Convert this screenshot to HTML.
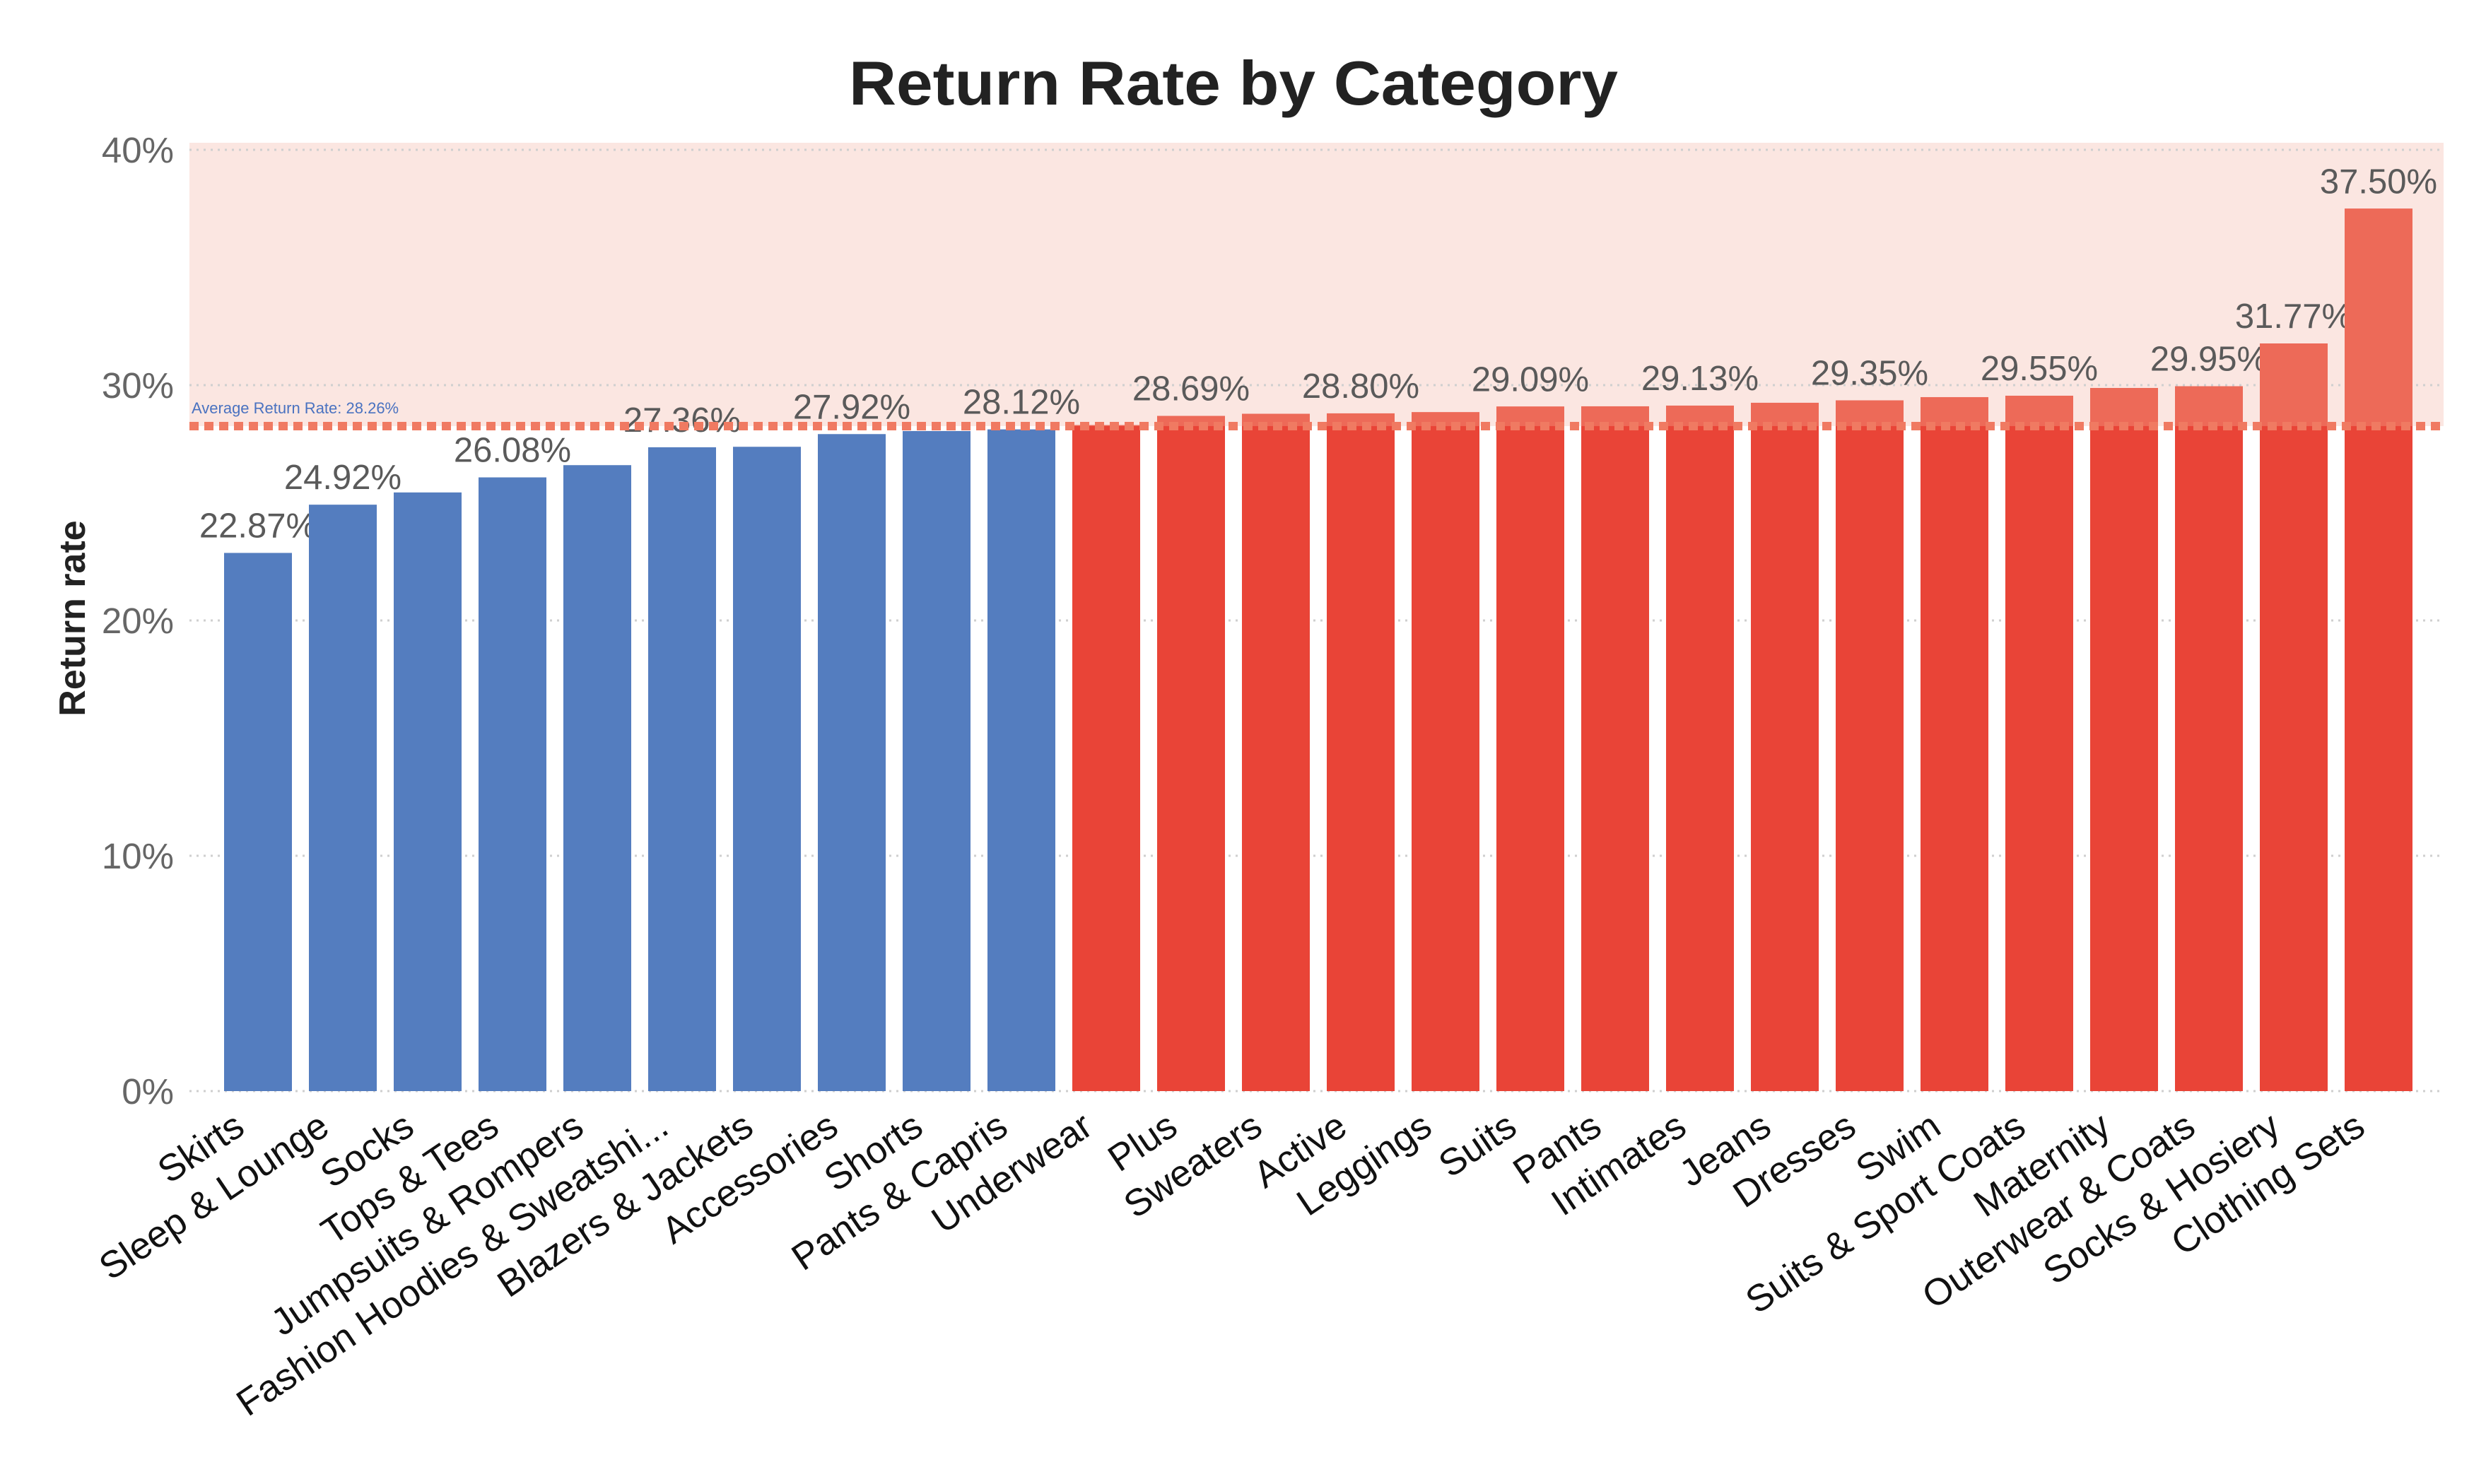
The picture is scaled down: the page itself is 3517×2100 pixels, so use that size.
<!DOCTYPE html>
<html><head><meta charset="utf-8"><style>
html,body{margin:0;padding:0;background:#fff;}
svg{display:block;font-family:"Liberation Sans",sans-serif;}
</style></head><body>
<svg id="chart" width="3517" height="2100" viewBox="0 0 3517 2100" xmlns="http://www.w3.org/2000/svg">
<text x="1745" y="148" text-anchor="middle" font-size="88" font-weight="bold" fill="#222" textLength="1088" lengthAdjust="spacingAndGlyphs">Return Rate by Category</text>
<text transform="translate(120,875) rotate(-90)" text-anchor="middle" font-size="52" font-weight="bold" fill="#222">Return rate</text>
<g id="plot"></g>
</svg>
<script>
const categories = ["Skirts","Sleep & Lounge","Socks","Tops & Tees","Jumpsuits & Rompers","Fashion Hoodies & Sweatshi...","Blazers & Jackets","Accessories","Shorts","Pants & Capris","Underwear","Plus","Sweaters","Active","Leggings","Suits","Pants","Intimates","Jeans","Dresses","Swim","Suits & Sport Coats","Maternity","Outerwear & Coats","Socks & Hosiery","Clothing Sets"];
const values = [22.87,24.92,25.44,26.08,26.6,27.36,27.38,27.92,28.05,28.12,28.3,28.69,28.78,28.80,28.85,29.09,29.1,29.13,29.25,29.35,29.49,29.55,29.88,29.95,31.77,37.50];
const labelShown = [1,1,0,1,0,1,0,1,0,1,0,1,0,1,0,1,0,1,0,1,0,1,0,1,1,1];
const yTicks = [0,10,20,30,40];
const yTickLabels = ["0%","10%","20%","30%","40%"];
const average = 28.26;
const bandTop = 40.3;

const NS="http://www.w3.org/2000/svg";
const plot=document.getElementById('plot');
const X0=268,X1=3457,Y0=1544,PER=33.3;
const y=v=>Y0-v*PER;
const xc=i=>365+i*120;
const BW=96;
function mk(tag,attrs,parent){const e=document.createElementNS(NS,tag);for(const k in attrs)e.setAttribute(k,attrs[k]);(parent||plot).appendChild(e);return e;}

const band=mk('rect',{x:X0,y:y(bandTop),width:X1-X0,height:y(average)-y(bandTop),fill:'#fbe6e1'});



yTicks.forEach((t,i)=>{
  const g=mk('line',{x1:X0,x2:X1,y1:y(t),y2:y(t),stroke:'#cfcfcf','stroke-width':3,'stroke-dasharray':'3 7'});
  
  
  const tx=mk('text',{x:246,y:y(t)+18,'text-anchor':'end','font-size':51,fill:'#666'});
  tx.textContent=yTickLabels[i];
  
  
});

values.forEach((v,i)=>{
  const above=v>average;
  const x=xc(i)-BW/2;
  const b=mk('rect',{x:x,y:y(v),width:BW,height:Y0-y(v),fill:above?'#e94437':'#547dbf'});
  
  
  if(above){
    const t=mk('rect',{x:x,y:y(v),width:BW,height:y(average)-y(v),fill:'#ed6a58'});
    
    
  }
  if(labelShown[i]){
    const l=mk('text',{x:xc(i),y:y(v)-22,'text-anchor':'middle','font-size':49,fill:'#5a5a5a'});
    l.textContent=v.toFixed(2)+'%';
    
    
  }
  const c=mk('text',{transform:'translate('+(xc(i)-16)+',1602) rotate(-34)','text-anchor':'end','font-size':53,fill:'#111'});
  c.textContent=categories[i];
  
  
});

const avg=mk('line',{x1:X0,x2:X1,y1:y(average),y2:y(average),stroke:'#f07a62','stroke-width':12,'stroke-dasharray':'13 8'});


const at=mk('text',{x:271,y:y(average)-18,'font-size':22,fill:'#4a72c0'});
at.textContent='Average Return Rate: '+average.toFixed(2)+'%';


</script>
</body></html>
